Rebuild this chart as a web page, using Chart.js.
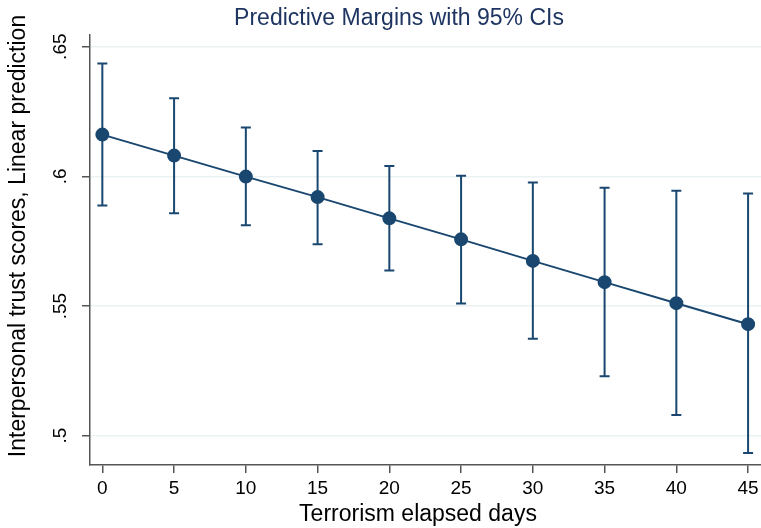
<!DOCTYPE html>
<html>
<head>
<meta charset="utf-8">
<script src="https://cdn.jsdelivr.net/npm/chart.js@4.4.1/dist/chart.umd.min.js"></script>
<style>
  html, body { margin: 0; padding: 0; background: #fff; }
  #wrap { width: 761px; height: 528px; }
</style>
</head>
<body>
<div id="wrap"><canvas id="chart" width="761" height="528"></canvas></div>
<script>
// Dados (margens previstas com IC 95%)
const days = [0, 5, 10, 15, 20, 25, 30, 35, 40, 45];
const margins = [0.6161, 0.6080, 0.5999, 0.5920, 0.5838, 0.5757, 0.5674, 0.5592, 0.5511, 0.5430];
const ciLower = [0.5888, 0.5858, 0.5811, 0.5738, 0.5637, 0.5510, 0.5374, 0.5229, 0.5080, 0.4933];
const ciUpper = [0.6435, 0.6301, 0.6188, 0.6098, 0.6040, 0.6002, 0.5976, 0.5956, 0.5944, 0.5934];
const xTicks = [0, 5, 10, 15, 20, 25, 30, 35, 40, 45];
const yTicks = [0.5, 0.55, 0.6, 0.65];
const yTickLabels = ['.5', '.55', '.6', '.65'];

const navy = '#1a476f';
const font = '"Liberation Sans", Arial, Helvetica, sans-serif';

// Barras de erro + textos no estilo Stata
const stataPlugin = {
    id: 'stata',
    beforeDatasetsDraw(chart) {
        const { ctx, scales: { x, y } } = chart;
        ctx.save();
        ctx.strokeStyle = navy;
        ctx.lineWidth = 2;
        days.forEach((d, i) => {
            const px = x.getPixelForValue(d);
            const top = y.getPixelForValue(ciUpper[i]);
            const bot = y.getPixelForValue(ciLower[i]);
            ctx.beginPath();
            ctx.moveTo(px, top); ctx.lineTo(px, bot);
            ctx.moveTo(px - 5, top); ctx.lineTo(px + 5, top);
            ctx.moveTo(px - 5, bot); ctx.lineTo(px + 5, bot);
            ctx.stroke();
        });
        ctx.restore();
    },
    afterDraw(chart) {
        const { ctx, scales: { y } } = chart;
        ctx.save();
        // titulo
        ctx.fillStyle = '#1e3561';
        ctx.font = '23px ' + font;
        ctx.textAlign = 'center';
        ctx.textBaseline = 'middle';
        ctx.fillText('Predictive Margins with 95% CIs', 399, 19);

        // titulo eixo x
        ctx.fillStyle = '#000';
        ctx.fillText('Terrorism elapsed days', 418, 515);

        // titulo eixo y (rotacionado)
        ctx.save();
        ctx.translate(19, 236);
        ctx.rotate(-Math.PI / 2);
        ctx.fillText('Interpersonal trust scores, Linear prediction', 0, 0);
        ctx.restore();

        // rótulos do eixo y rotacionados
        ctx.font = '19px ' + font;
        yTicks.forEach((v, i) => {
            const py = y.getPixelForValue(v);
            ctx.save();
            ctx.translate(61, py);
            ctx.rotate(-Math.PI / 2);
            ctx.fillText(yTickLabels[i], 0, 0);
            ctx.restore();
        });
        ctx.restore();
    }
};

new Chart(document.getElementById('chart'), {
    type: 'line',
    data: {
        datasets: [{
            data: days.map((d, i) => ({ x: d, y: margins[i] })),
            borderColor: navy,
            backgroundColor: navy,
            borderWidth: 2,
            pointRadius: 6,
            pointBackgroundColor: navy,
            pointBorderColor: navy,
            tension: 0
        }]
    },
    options: {
        responsive: false,
        animation: false,
        layout: { autoPadding: false, padding: { top: 35, left: 0, right: 0, bottom: 0 } },
        plugins: { legend: { display: false }, title: { display: false }, tooltip: { enabled: false } },
        scales: {
            x: {
                type: 'linear',
                min: -0.86,
                max: 45.9,
                afterBuildTicks: s => { s.ticks = xTicks.map(v => ({ value: v })); },
                afterFit: s => { s.height = 63; s.paddingLeft = 0; s.paddingRight = 0; },
                grid: { drawOnChartArea: false, drawTicks: true, tickLength: 8, color: '#555', lineWidth: 1.5 },
                border: { display: true, color: '#555', width: 1.5 },
                ticks: { color: '#000', padding: 4, font: { family: font, size: 19 }, maxRotation: 0 }
            },
            y: {
                type: 'linear',
                min: 0.4887,
                max: 0.6545,
                afterBuildTicks: s => { s.ticks = yTicks.map(v => ({ value: v })); },
                afterFit: s => { s.width = 90; s.paddingTop = 0; s.paddingBottom = 0; },
                grid: { color: '#eaf2f3', lineWidth: 1.5, drawTicks: true, tickLength: 8, tickColor: '#555', tickWidth: 1.5 },
                border: { display: true, color: '#555', width: 1.5 },
                ticks: { display: false }
            }
        }
    },
    plugins: [stataPlugin]
});
</script>
</body>
</html>
